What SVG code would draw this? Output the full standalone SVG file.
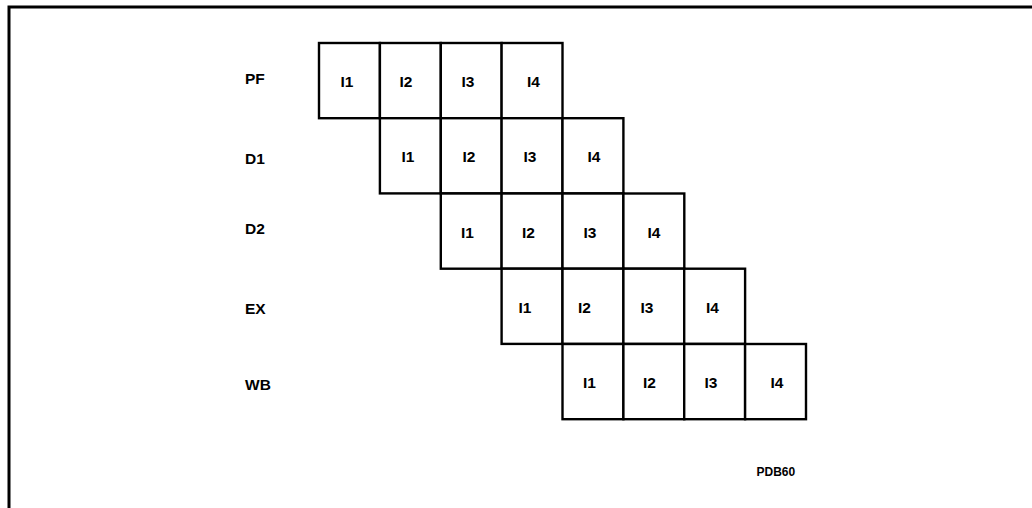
<svg xmlns="http://www.w3.org/2000/svg" width="1032" height="508" viewBox="0 0 1032 508">
<style>
.cell{fill:#fff;stroke:#000;stroke-width:2.4}
.t{font-family:"Liberation Sans",Arial,sans-serif;font-weight:bold;font-size:15.5px;fill:#000;text-anchor:middle}
.lab{font-family:"Liberation Sans",Arial,sans-serif;font-weight:bold;font-size:15.5px;fill:#000}
.frame{fill:none;stroke:#000;stroke-width:3}
</style>
<rect width="1032" height="508" fill="#fff"/>
<path class="frame" d="M9 508 V7 H1032"/>
<g id="connectors"/>
<g id="stage-labels">
<text class="lab" x="245" y="83.5">PF</text>
<text class="lab" x="245" y="164">D1</text>
<text class="lab" x="245" y="233.5">D2</text>
<text class="lab" x="245" y="313.5">EX</text>
<text class="lab" x="245" y="390">WB</text>
</g>
<g id="row-PF">
<g id="pf-i1"><rect class="cell" x="319" y="43" width="60.9" height="75.2"/><text class="t" x="347" y="86.7">I1</text></g>
<g id="pf-i2"><rect class="cell" x="379.9" y="43" width="60.9" height="75.2"/><text class="t" x="406" y="86.7">I2</text></g>
<g id="pf-i3"><rect class="cell" x="440.8" y="43" width="60.9" height="75.2"/><text class="t" x="468" y="86.7">I3</text></g>
<g id="pf-i4"><rect class="cell" x="501.6" y="43" width="60.9" height="75.2"/><text class="t" x="533.5" y="86.7">I4</text></g>
</g>
<g id="row-D1">
<g id="d1-i1"><rect class="cell" x="379.9" y="118.2" width="60.9" height="75.2"/><text class="t" x="408" y="162">I1</text></g>
<g id="d1-i2"><rect class="cell" x="440.8" y="118.2" width="60.9" height="75.2"/><text class="t" x="469" y="162">I2</text></g>
<g id="d1-i3"><rect class="cell" x="501.6" y="118.2" width="60.9" height="75.2"/><text class="t" x="530" y="162">I3</text></g>
<g id="d1-i4"><rect class="cell" x="562.5" y="118.2" width="60.9" height="75.2"/><text class="t" x="594" y="162">I4</text></g>
</g>
<g id="row-D2">
<g id="d2-i1"><rect class="cell" x="440.8" y="193.5" width="60.9" height="75.2"/><text class="t" x="467.5" y="237.5">I1</text></g>
<g id="d2-i2"><rect class="cell" x="501.6" y="193.5" width="60.9" height="75.2"/><text class="t" x="528.5" y="237.5">I2</text></g>
<g id="d2-i3"><rect class="cell" x="562.5" y="193.5" width="60.9" height="75.2"/><text class="t" x="590" y="237.5">I3</text></g>
<g id="d2-i4"><rect class="cell" x="623.4" y="193.5" width="60.9" height="75.2"/><text class="t" x="654" y="237.5">I4</text></g>
</g>
<g id="row-EX">
<g id="ex-i1"><rect class="cell" x="501.6" y="268.7" width="60.9" height="75.2"/><text class="t" x="525" y="312.8">I1</text></g>
<g id="ex-i2"><rect class="cell" x="562.5" y="268.7" width="60.9" height="75.2"/><text class="t" x="584.5" y="312.8">I2</text></g>
<g id="ex-i3"><rect class="cell" x="623.4" y="268.7" width="60.9" height="75.2"/><text class="t" x="647" y="312.8">I3</text></g>
<g id="ex-i4"><rect class="cell" x="684.2" y="268.7" width="60.9" height="75.2"/><text class="t" x="712.5" y="312.8">I4</text></g>
</g>
<g id="row-WB">
<g id="wb-i1"><rect class="cell" x="562.5" y="344" width="60.9" height="75.2"/><text class="t" x="589.5" y="388.3">I1</text></g>
<g id="wb-i2"><rect class="cell" x="623.4" y="344" width="60.9" height="75.2"/><text class="t" x="649.5" y="388.3">I2</text></g>
<g id="wb-i3"><rect class="cell" x="684.2" y="344" width="60.9" height="75.2"/><text class="t" x="711" y="388.3">I3</text></g>
<g id="wb-i4"><rect class="cell" x="745.1" y="344" width="60.9" height="75.2"/><text class="t" x="777" y="388.3">I4</text></g>
</g>
<text id="fig-id" x="756.5" y="475.5" font-family="'Liberation Sans',Arial,sans-serif" font-weight="bold" font-size="12px">PDB60</text>
</svg>
